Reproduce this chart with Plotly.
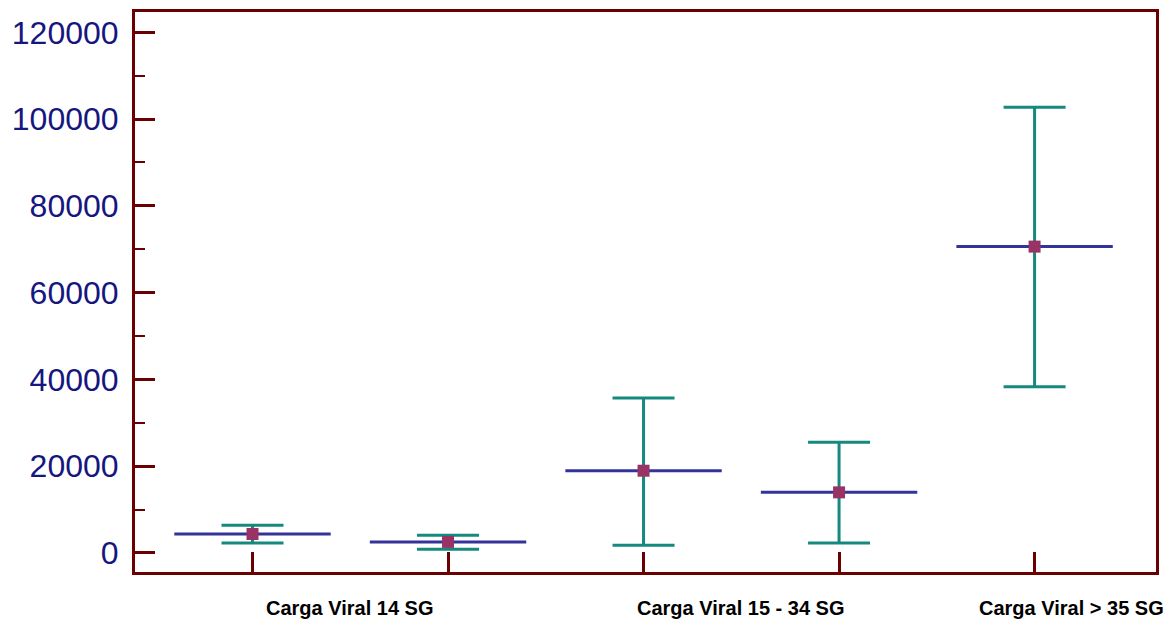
import plotly.graph_objects as go

# Data
positions = [0, 1, 2, 3, 4]
means = [4350, 2530, 18940, 13950, 70600]
upper = [6370, 4070, 35720, 25520, 102700]
lower = [2300, 850, 1770, 2300, 38320]
group_labels = ["Carga Viral 14 SG", "Carga Viral 15 - 34 SG", "Carga Viral > 35 SG"]
group_label_pos = [0.5, 2.5, 4.19]
y_tickvals = [0, 20000, 40000, 60000, 80000, 100000, 120000]
y_ticktext = ["0", "20000", "40000", "60000", "80000", "100000", "120000"]
y_minor = [10000, 30000, 50000, 70000, 90000, 110000]

AXIS = "#6b0000"
TEAL = "#16897f"
BLUE = "#333399"
MARK = "#993366"
LABEL = "#16167f"

err_plus = [u - m for u, m in zip(upper, means)]
err_minus = [m - l for m, l in zip(means, lower)]

fig = go.Figure()
fig.add_trace(go.Scatter(
    x=positions, y=means, mode="markers",
    marker=dict(symbol="square", size=12, color=MARK, line=dict(width=0)),
    error_y=dict(type="data", array=err_plus, arrayminus=err_minus,
                 symmetric=False, color=TEAL, thickness=3, width=31),
    error_x=dict(type="constant", value=0.4, color=BLUE, thickness=3, width=0),
    showlegend=False, hoverinfo="y",
))

for lab, pos in zip(group_labels, group_label_pos):
    fig.add_annotation(x=pos, xref="x", y=0, yref="paper", yanchor="middle",
                       yshift=-36, text=lab, showarrow=False,
                       font=dict(family="Liberation Sans, Arial", size=20, color="#000000", weight="bold"))

fig.update_layout(
    width=1167, height=616,
    margin=dict(l=127, r=19, t=4, b=52),
    plot_bgcolor="white", paper_bgcolor="white",
    xaxis=dict(range=[-0.601, 4.621], tickvals=positions, ticktext=[""] * 5,
               showgrid=False, zeroline=False, showline=True, linecolor=AXIS,
               linewidth=3, mirror=True, ticks="inside", ticklen=20,
               tickwidth=3, tickcolor=AXIS, automargin=False),
    yaxis=dict(range=[-4406, 124680], tickvals=y_tickvals, ticktext=y_ticktext,
               showgrid=False, zeroline=False, showline=True, linecolor=AXIS,
               linewidth=3, mirror=True, ticks="inside", ticklen=20,
               tickwidth=3, tickcolor=AXIS, ticklabelstandoff=7, automargin=False,
               tickfont=dict(family="Liberation Sans, Arial", size=32, color=LABEL),
               minor=dict(tickvals=y_minor,
                          ticks="inside", ticklen=10, tickwidth=2, tickcolor=AXIS,
                          showgrid=False)),
)

fig.write_html("out.html")
